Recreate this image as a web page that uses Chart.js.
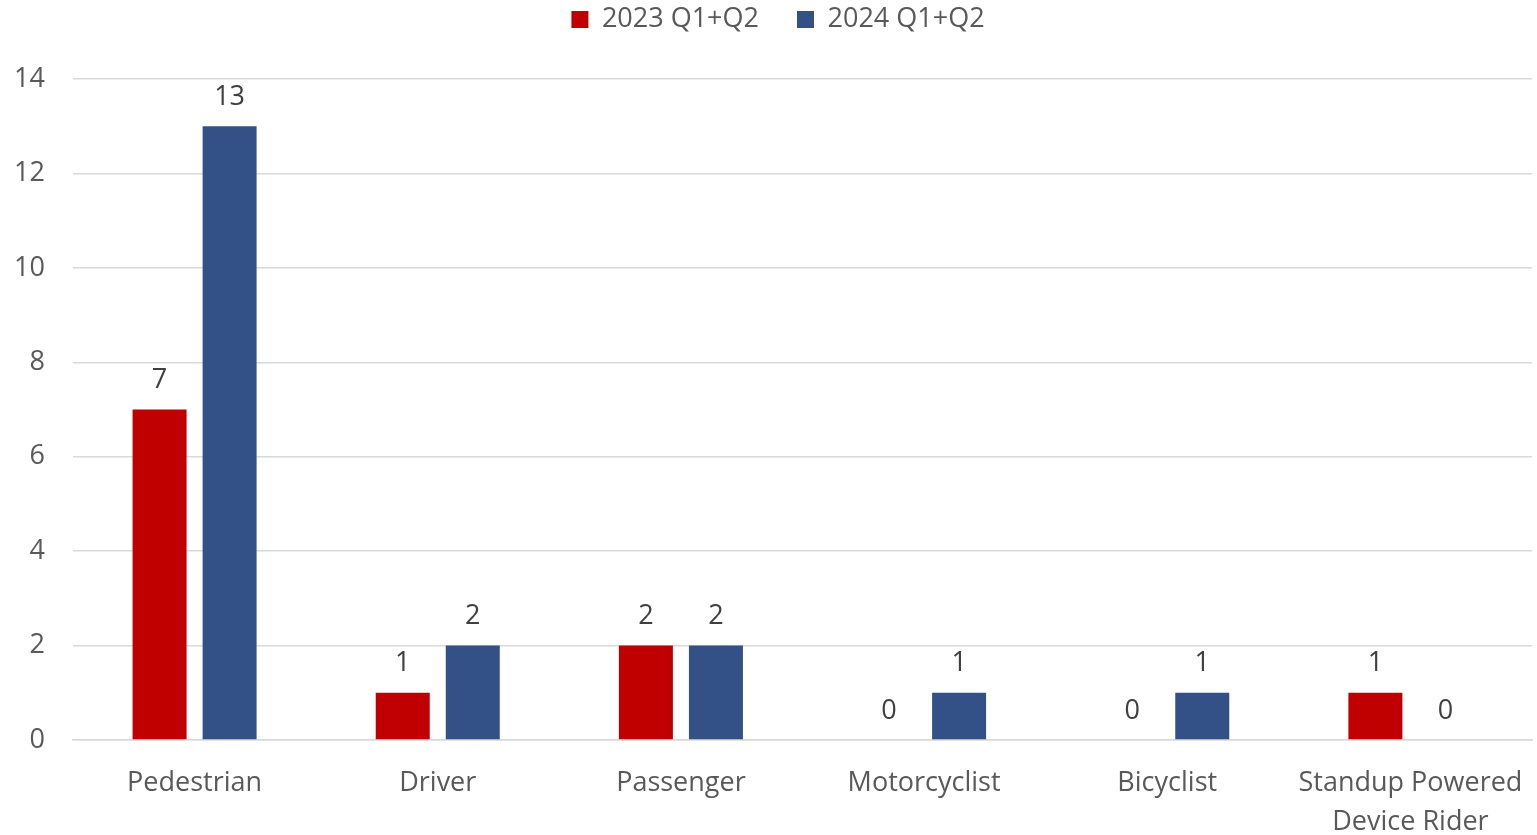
<!DOCTYPE html>
<html>
<head>
<meta charset="utf-8">
<script src="https://cdn.jsdelivr.net/npm/chart.js@4"></script>
<style>
  html, body { margin: 0; padding: 0; background: #fff; }
  #wrap { width: 1537px; height: 835px; }
</style>
</head>
<body>
<div id="wrap"><canvas id="roleChart"></canvas></div>
<script>
// DATA

const categories = ["Pedestrian", "Driver", "Passenger", "Motorcyclist", "Bicyclist", ["Standup Powered", "Device Rider"]];
const series2023 = [7, 1, 2, 0, 0, 1];
const series2024 = [13, 2, 2, 1, 1, 0];
const yTicks = [0, 2, 4, 6, 8, 10, 12, 14];

const FONT = "'Open Sans', sans-serif";
const LEGEND_PAD = 38;

// value labels above bars
const barLabels = {
  id: "barLabels",
  afterDatasetsDraw(chart) {
    const ctx = chart.ctx;
    ctx.save();
    ctx.font = "27px " + FONT;
    ctx.fillStyle = "#404040";
    ctx.textAlign = "center";
    ctx.textBaseline = "middle";
    chart.data.datasets.forEach((ds, i) => {
      chart.getDatasetMeta(i).data.forEach((bar, j) => {
        ctx.fillText(ds.data[j], bar.x, bar.y - 29);
      });
    });
    ctx.restore();
  }
};

// keep legend near the top edge but leave room above the plot
const legendSpace = {
  id: "legendSpace",
  beforeInit(chart) {
    const legend = chart.legend;
    const fit = legend.fit;
    legend.fit = function () {
      fit.call(this);
      this.height = 79;
    };
  },
  afterLayout(chart) {
    chart.legend.top -= (LEGEND_PAD - 6);
    chart.legend.left += 12;
    chart.legend.right += 12;
  }
};

new Chart(document.getElementById("roleChart"), {
  type: "bar",
  data: {
    labels: categories,
    datasets: [
      { label: "2023 Q1+Q2", data: series2023, backgroundColor: "#C00000" },
      { label: "2024 Q1+Q2", data: series2024, backgroundColor: "#335087" }
    ]
  },
  options: {
    responsive: true,
    maintainAspectRatio: false,
    animation: false,
    categoryPercentage: 0.576,
    barPercentage: 0.771,
    layout: { padding: { left: 0, right: 5, top: 0, bottom: 0 } },
    plugins: {
      legend: {
        position: "top",
        labels: {
          font: { family: FONT, size: 27 },
          color: "#595959",
          boxWidth: 17,
          boxHeight: 17,
          padding: LEGEND_PAD
        }
      },
      tooltip: { enabled: false }
    },
    scales: {
      x: {
        afterFit(scale) {
          scale.height = 95;
          scale.paddingRight = 0;
          scale.paddingLeft = 0;
        },
        grid: { display: false },
        border: { color: "#d9d9d9", width: 1.5 },
        ticks: { font: { family: FONT, size: 27, lineHeight: 1.45 }, color: "#595959", padding: 16, maxRotation: 0 }
      },
      y: {
        min: 0,
        max: 14,
        afterBuildTicks(scale) { scale.ticks = yTicks.map(v => ({ value: v })); },
        afterFit(scale) { scale.width = 73; },
        grid: { color: "#d9d9d9", lineWidth: 1.5, drawTicks: false },
        border: { display: false },
        ticks: { font: { family: FONT, size: 27 }, color: "#595959", padding: 28 }
      }
    }
  },
  plugins: [barLabels, legendSpace]
});
</script>
</body>
</html>
